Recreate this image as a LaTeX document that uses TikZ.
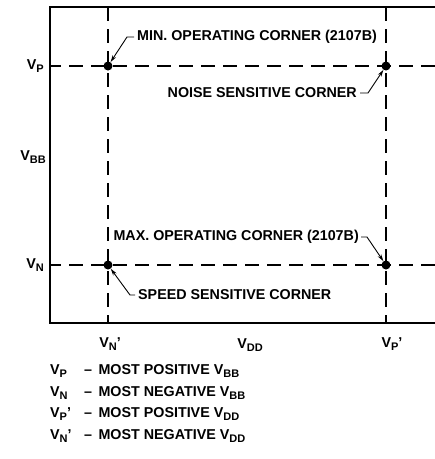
\documentclass[tikz,border=0pt]{standalone}
\usepackage{fontspec}
\setmainfont{Liberation Sans}
\usetikzlibrary{arrows.meta}
\newcommand\lowsub[1]{\raisebox{-0.45ex}{\fontsize{11}{12}\selectfont #1}}
\newcommand\vv[1]{V\lowsub{#1}}
\begin{document}
\begin{tikzpicture}[x=1pt,y=-1pt,
  lbl/.style={font=\fontsize{14.3}{16}\selectfont\bfseries, inner sep=0pt},
  frame/.style={line width=1.8pt},
  dash line/.style={line width=1.4pt, dash pattern=on 14pt off 8pt},
  corner/.style={circle, fill=black, inner sep=0pt, minimum size=9pt},
  leader/.style={line width=0.9pt, -{Stealth[length=7pt,width=4pt]}}]
\useasboundingbox (0,0) rectangle (435,459);
% frame
\draw[frame] (435,7) -- (50,7) -- (50,323) -- (435,323);
% dashed grid
\draw[dash line, dash phase=3pt] (50,66) -- (435,66);
\draw[dash line, dash phase=3pt] (50,265) -- (435,265);
\draw[dash line] (108,7) -- (108,323);
\draw[dash line] (386,7) -- (386,323);
% corner dots
\node[corner] (tl) at (108,66) {};
\node[corner] (tr) at (386,66) {};
\node[corner] (bl) at (108,265) {};
\node[corner] (br) at (386,265) {};
% axis labels
\node[lbl, anchor=east] (vp) at (44,66) {\vv{P}};
\node[lbl, anchor=east] (vbb) at (46,157) {\vv{BB}};
\node[lbl, anchor=east] (vn) at (44,265) {\vv{N}};
\node[lbl] (vnp) at (110,344) {\vv{N}’};
\node[lbl] (vdd) at (250,345) {\vv{DD}};
\node[lbl] (vpp) at (392,344) {\vv{P}’};
% annotations
\node[lbl, anchor=west] (tmin) at (137,37) {MIN. OPERATING CORNER (2107B)};
\node[lbl, anchor=east] (tnoise) at (357,93) {NOISE SENSITIVE CORNER};
\node[lbl, anchor=east] (tmax) at (359,237) {MAX. OPERATING CORNER (2107B)};
\node[lbl, anchor=west] (tspeed) at (138,295) {SPEED SENSITIVE CORNER};
\coordinate (hmin) at (127,37);
\coordinate (hnoise) at (368,93);
\coordinate (hmax) at (367,237);
\coordinate (hspeed) at (130,295);
\draw[leader] ([xshift=-3pt]tmin.west) -- (hmin) -- (tl);
\draw[leader] ([xshift=3pt]tnoise.east) -- (hnoise) -- (tr);
\draw[leader] ([xshift=2pt]tmax.east) -- (hmax) -- (br);
\draw[leader] ([xshift=-3pt]tspeed.west) -- (hspeed) -- (bl);
% legend
\node[lbl, anchor=west] (l1a) at (50,371) {\vv{P}};
\node[lbl, anchor=west] (l2a) at (50,393) {\vv{N}};
\node[lbl, anchor=west] (l3a) at (50,414) {\vv{P}’};
\node[lbl, anchor=west] (l4a) at (50,436) {\vv{N}’};
\node[lbl, anchor=west] (l1b) at (84,371) {–\hspace{0.45em}MOST POSITIVE \vv{BB}};
\node[lbl, anchor=west] (l2b) at (84,393) {–\hspace{0.45em}MOST NEGATIVE \vv{BB}};
\node[lbl, anchor=west] (l3b) at (84,414) {–\hspace{0.45em}MOST POSITIVE \vv{DD}};
\node[lbl, anchor=west] (l4b) at (84,436) {–\hspace{0.45em}MOST NEGATIVE \vv{DD}};
\end{tikzpicture}
\end{document}
